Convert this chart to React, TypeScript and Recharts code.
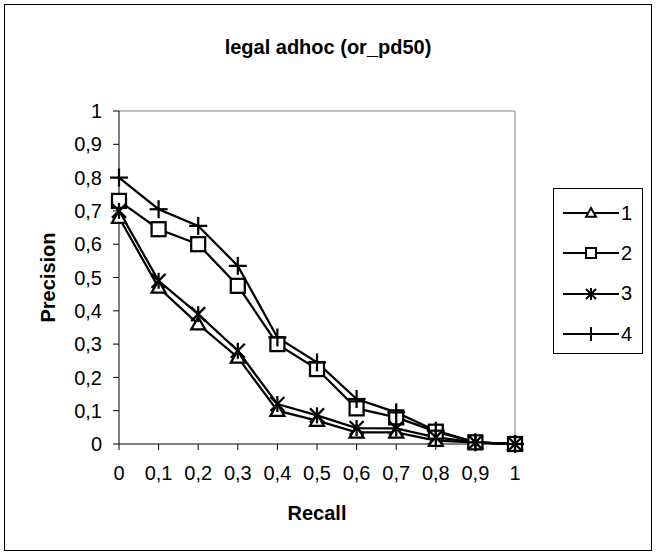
import React from 'react';
import { LineChart, Line, XAxis, YAxis, ReferenceLine, Label } from 'recharts';

const recall = [0, 0.1, 0.2, 0.3, 0.4, 0.5, 0.6, 0.7, 0.8, 0.9, 1];
const run1 = [0.68, 0.47, 0.36, 0.26, 0.1, 0.07, 0.035, 0.035, 0.01, 0.005, 0];
const run2 = [0.73, 0.645, 0.6, 0.475, 0.3, 0.225, 0.107, 0.08, 0.037, 0.005, 0];
const run3 = [0.7, 0.49, 0.39, 0.28, 0.12, 0.086, 0.048, 0.047, 0.02, 0.005, 0];
const run4 = [0.8, 0.705, 0.655, 0.535, 0.32, 0.245, 0.135, 0.095, 0.04, 0.005, 0];
const seriesNames = ['1', '2', '3', '4'];
const yTicks = [0, 0.1, 0.2, 0.3, 0.4, 0.5, 0.6, 0.7, 0.8, 0.9, 1];

const chartData = recall.map((r, i) => ({
  recall: r,
  s1: run1[i],
  s2: run2[i],
  s3: run3[i],
  s4: run4[i],
}));

type Shape = 'triangle' | 'square' | 'star' | 'plus';
const shapes: Shape[] = ['triangle', 'square', 'star', 'plus'];

const FONT = '"Liberation Sans", Arial, sans-serif';
const comma = (v: number) => String(v).replace('.', ',');

function Marker({ cx, cy, shape, s = 7, w = 2.25 }: { cx: number; cy: number; shape: Shape; s?: number; w?: number }) {
  const st = { stroke: '#000', strokeWidth: w, fill: 'none' };
  if (shape === 'triangle') {
    return (
      <polygon
        points={`${cx},${cy - s} ${cx - s},${cy + s * 0.75} ${cx + s},${cy + s * 0.75}`}
        {...st}
        fill="#fff"
      />
    );
  }
  if (shape === 'square') {
    return <rect x={cx - s} y={cy - s} width={s * 2} height={s * 2} {...st} fill="#fff" />;
  }
  if (shape === 'star') {
    return (
      <g {...st}>
        <line x1={cx - s} y1={cy - s} x2={cx + s} y2={cy + s} />
        <line x1={cx - s} y1={cy + s} x2={cx + s} y2={cy - s} />
        <line x1={cx} y1={cy - s - 1} x2={cx} y2={cy + s + 1} />
      </g>
    );
  }
  return (
    <g {...st}>
      <line x1={cx - s - 2} y1={cy} x2={cx + s + 2} y2={cy} />
      <line x1={cx} y1={cy - s - 2} x2={cx} y2={cy + s + 2} />
    </g>
  );
}

const makeDot = (shape: Shape) => (props: any) => (
  <g key={`${shape}-${props.index}`}>
    <Marker cx={props.cx} cy={props.cy} shape={shape} />
  </g>
);

function LegendBox() {
  return (
    <div
      style={{
        position: 'absolute',
        left: 553,
        top: 188,
        width: 90,
        height: 166,
        border: '1px solid #000',
        background: '#fff',
        boxSizing: 'border-box',
        paddingTop: 4,
      }}
    >
      {seriesNames.map((name, i) => (
        <div key={name} style={{ display: 'flex', alignItems: 'center', height: 40.3 }}>
          <svg width={58} height={24} style={{ marginLeft: 8 }}>
            <line x1={1} y1={12} x2={57} y2={12} stroke="#000" strokeWidth={2} />
            <Marker cx={29} cy={12} shape={shapes[i]} s={5} w={2} />
          </svg>
          <span style={{ fontFamily: FONT, fontSize: 20, color: '#000', marginLeft: 1 }}>{name}</span>
        </div>
      ))}
    </div>
  );
}

const axisTitle = { fontWeight: 'bold' as const, fontSize: 20, fill: '#000', fontFamily: FONT };

export default function App() {
  const keys = ['s1', 's2', 's3', 's4'];
  return (
    <div
      style={{
        position: 'absolute',
        left: 0,
        top: 0,
        width: 656,
        height: 552,
        background: '#fff',
        fontFamily: FONT,
      }}
    >
      <div
        style={{
          position: 'absolute',
          left: 4,
          top: 4,
          width: 648,
          height: 547,
          border: '1px solid #000',
          boxSizing: 'border-box',
        }}
      />
      <div
        style={{
          position: 'absolute',
          left: 4,
          top: 37,
          width: 648,
          textAlign: 'center',
          fontSize: 20,
          lineHeight: '20px',
          fontWeight: 'bold',
          color: '#000',
        }}
      >
        legal adhoc (or_pd50)
      </div>
      <div style={{ position: 'absolute', left: 0, top: 0 }}>
        <LineChart
          width={656}
          height={552}
          data={chartData}
          margin={{ top: 111, right: 141, bottom: 32, left: 39 }}
        >
          <XAxis
            dataKey="recall"
            type="number"
            domain={[0, 1]}
            ticks={recall}
            tickFormatter={comma}
            height={76}
            stroke="#000"
            tick={{ fill: '#000', fontSize: 20, fontFamily: FONT }}
            tickSize={6}
            tickMargin={16}
            interval={0}
          >
            <Label value="Recall" position="insideBottom" offset={0} style={axisTitle} />
          </XAxis>
          <YAxis
            type="number"
            domain={[0, 1]}
            ticks={yTicks}
            tickFormatter={comma}
            width={80}
            stroke="#000"
            tick={{ fill: '#000', fontSize: 20, fontFamily: FONT }}
            tickSize={6}
            tickMargin={11}
            interval={0}
          >
            <Label
              content={(p: any) => {
                const vb = p.viewBox || { x: 39, y: 111, width: 80, height: 333 };
                const cx = vb.x + 9;
                const cy = vb.y + vb.height / 2;
                return (
                  <text
                    x={cx}
                    y={cy}
                    transform={`rotate(-90 ${cx} ${cy})`}
                    textAnchor="middle"
                    dominantBaseline="central"
                    style={axisTitle}
                  >
                    Precision
                  </text>
                );
              }}
            />
          </YAxis>
          <ReferenceLine y={1} stroke="#808080" strokeWidth={1} />
          <ReferenceLine x={1} stroke="#808080" strokeWidth={1} />
          {keys.map((k, i) => (
            <Line
              key={k}
              dataKey={k}
              name={seriesNames[i]}
              type="linear"
              stroke="#000"
              strokeWidth={2.25}
              dot={makeDot(shapes[i])}
              activeDot={false}
              isAnimationActive={false}
            />
          ))}
        </LineChart>
      </div>
      <LegendBox />
    </div>
  );
}
